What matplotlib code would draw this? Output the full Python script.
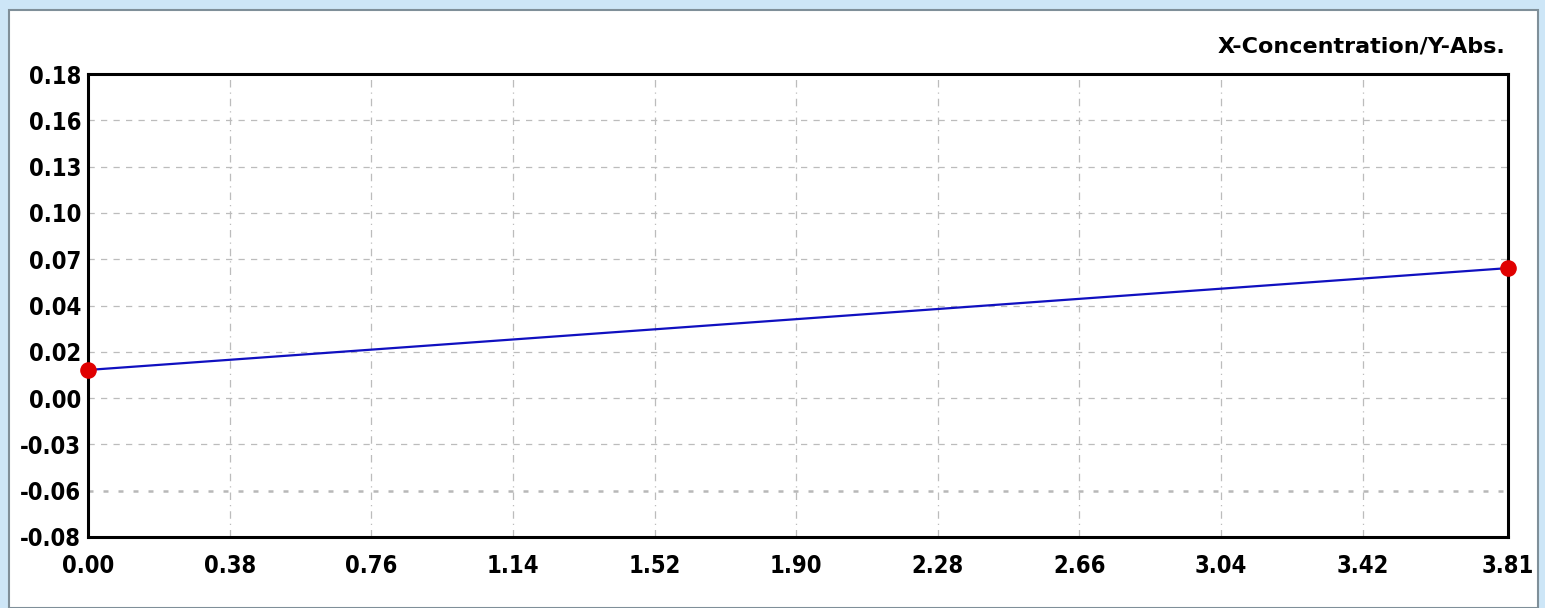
import numpy as np
import matplotlib
matplotlib.use("Agg")
import matplotlib.pyplot as plt
from matplotlib.patches import Rectangle

# data
conc = [0.00, 3.81]
absorb = [0.0138, 0.071]

x_ticks = [0.00, 0.38, 0.76, 1.14, 1.52, 1.90, 2.28, 2.66, 3.04, 3.42, 3.81]
x_labels = ["0.00", "0.38", "0.76", "1.14", "1.52", "1.90", "2.28", "2.66", "3.04", "3.42", "3.81"]
y_labels = ["-0.08", "-0.06", "-0.03", "0.00", "0.02", "0.04", "0.07", "0.10", "0.13", "0.16", "0.18"]
y_min, y_max = -0.08, 0.18

font = "DejaVu Sans"

fig = plt.figure(figsize=(15.45, 6.08), dpi=100)
fig.patch.set_facecolor("#cde6f7")

# white inner panel
W, H = 1545, 608
fig.patches.append(Rectangle((9 / W, 0), (1538 - 9) / W, (H - 10) / H,
                             transform=fig.transFigure, facecolor="white",
                             edgecolor="#7f8f99", linewidth=1.5, zorder=-5))

ax = fig.add_axes([88 / W, 1 - 537 / H, (1508 - 88) / W, (537 - 74) / H])
ax.set_facecolor("white")

ax.plot(conc, absorb, color="#1010c0", linewidth=1.6, zorder=3)
ax.scatter(conc, absorb, s=120, color="#e00000", zorder=4, clip_on=False)

ax.set_xlim(0, 3.81)
ax.set_ylim(y_min, y_max)

y_ticks = np.linspace(y_min, y_max, len(y_labels))
ax.set_xticks(x_ticks)
ax.set_xticklabels(x_labels)
ax.set_yticks(y_ticks)
ax.set_yticklabels(y_labels)

for lab in ax.get_xticklabels() + ax.get_yticklabels():
    lab.set_fontfamily(font)
    lab.set_fontstretch("condensed")
    lab.set_fontweight("bold")
    lab.set_fontsize(17)

ax.tick_params(axis="both", length=0)
ax.tick_params(axis="x", pad=12)
ax.tick_params(axis="y", pad=5)

# grid
for i, yv in enumerate(y_ticks[1:-1]):
    if y_labels[i + 1] == "-0.06":
        ax.axhline(yv, color="#b8b8b8", linewidth=1.8, linestyle=(0, (2, 4)), zorder=1)
    else:
        ax.axhline(yv, color="#bcbcbc", linewidth=0.9, linestyle=(0, (5, 5)), zorder=1)
for xv in x_ticks[1:-1]:
    ax.axvline(xv, color="#bcbcbc", linewidth=0.9, linestyle=(0, (6, 4, 1, 4)), zorder=1)

for sp in ax.spines.values():
    sp.set_linewidth(2.2)
    sp.set_color("black")

fig.text(1505 / W, 1 - 47 / H, "X-Concentration/Y-Abs.", ha="right", va="center",
         fontsize=16, fontweight="bold", family=font)

plt.savefig("out.png", dpi=100, facecolor=fig.get_facecolor())
